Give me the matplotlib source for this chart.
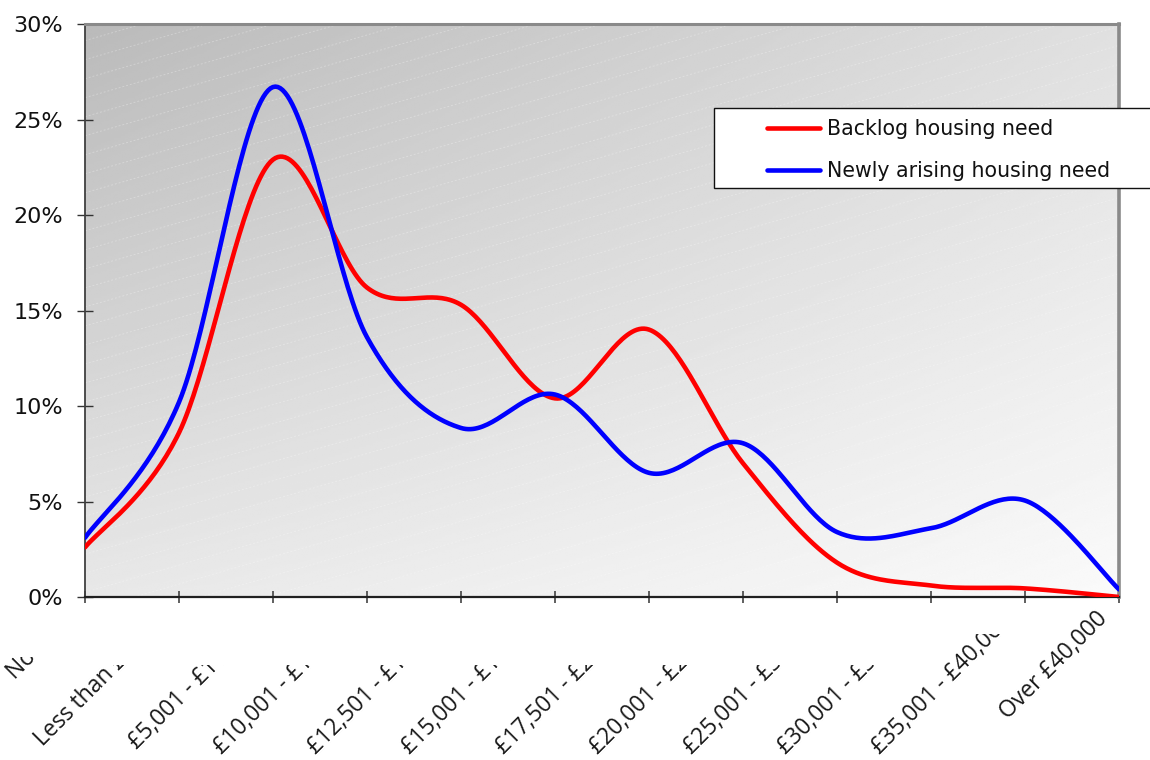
import numpy as np
import matplotlib
matplotlib.use("Agg")
import matplotlib.pyplot as plt
from matplotlib.lines import Line2D
from matplotlib.patches import Rectangle
from matplotlib.transforms import ScaledTranslation, Bbox, TransformedBbox

# Income bands (x axis)
income_bands = [
    "No income", "Less than £5,000", "£5,001 - £10,000", "£10,001 - £12,500",
    "£12,501 - £15,000", "£15,001 - £17,500", "£17,501 - £20,000",
    "£20,001 - £25,000", "£25,001 - £30,000", "£30,001 - £35,000",
    "£35,001 - £40,000", "Over £40,000",
]

# Share of households in each band (%)
backlog_need = [2.6, 8.6, 22.9, 16.2, 15.3, 10.4, 14.0, 7.0, 1.8, 0.6, 0.45, 0.0]
newly_arising_need = [3.1, 10.2, 26.7, 13.6, 8.85, 10.6, 6.5, 8.05, 3.4, 3.6, 5.05, 0.4]

series_names = ["Backlog housing need", "Newly arising housing need"]
series_colors = ["#ff0000", "#0000ff"]

y_ticks = [0, 5, 10, 15, 20, 25, 30]


def smooth_curve(values, steps=40):
    """Bezier smoothing through every point (cardinal spline, spreadsheet style)."""
    pts = np.column_stack([np.arange(len(values)), values]).astype(float)
    ext = np.vstack([pts[0], pts, pts[-1]])
    t = np.linspace(0, 1, steps)[:, None]
    parts = []
    for i in range(len(pts) - 1):
        p0, p1, p2, p3 = ext[i], ext[i + 1], ext[i + 2], ext[i + 3]
        c1 = p1 + (p2 - p0) / 6.0
        c2 = p2 - (p3 - p1) / 6.0
        seg = ((1 - t) ** 3) * p1 + 3 * ((1 - t) ** 2) * t * c1 \
            + 3 * (1 - t) * (t ** 2) * c2 + (t ** 3) * p2
        parts.append(seg if i == 0 else seg[1:])
    return np.vstack(parts)


W, H = 1150, 760
fig = plt.figure(figsize=(W / 100, H / 100), dpi=100)
fig.patch.set_facecolor("white")

ax_left, ax_right, ax_top, ax_bottom = 85, 1119, 24, 597
ax = fig.add_axes([ax_left / W, (H - ax_bottom) / H,
                   (ax_right - ax_left) / W, (ax_bottom - ax_top) / H])

# Diagonal grey gradient for the plot area
gx, gy = np.meshgrid(np.linspace(0, 1, 300), np.linspace(1, 0, 300))
tl, tr, bl, br = 186, 224, 232, 250
grad = (tl * (1 - gx) * gy + tr * gx * gy + bl * (1 - gx) * (1 - gy) + br * gx * (1 - gy)) / 255.0
ax.imshow(grad, extent=[0, 1, 0, 1], transform=ax.transAxes, cmap="gray",
          vmin=0, vmax=1, aspect="auto", interpolation="bilinear", zorder=0)

# Faint dotted texture running across the fill
slope, step = 0.523, 0.0332
for c in np.arange(-slope, 1.0 + step, step):
    ax.plot([0, 1], [c, c + slope], transform=ax.transAxes, color="white",
            lw=0.7, alpha=0.28, ls=(0, (2, 2)), zorder=1)

for vals, color, name in zip([backlog_need, newly_arising_need], series_colors, series_names):
    curve = smooth_curve(vals)
    ax.plot(curve[:, 0], curve[:, 1], color=color, lw=3.3, solid_capstyle="round",
            label=name, zorder=3)

ax.set_xlim(0, len(income_bands) - 1)
ax.set_ylim(0, 30)

ax.set_yticks(y_ticks)
ax.set_yticklabels([f"{v}%" for v in y_ticks])
ax.tick_params(axis="y", direction="inout", length=11.5, width=1, color="#333333",
               pad=10, labelsize=16, labelcolor="#111111")
ax.set_xticks(range(len(income_bands)))
ax.set_xticklabels([])
ax.tick_params(axis="x", direction="inout", length=9, width=1.2, color="#444444")

ax.spines["left"].set_color("#404040")
ax.spines["left"].set_linewidth(1.3)
ax.spines["bottom"].set_color("#202020")
ax.spines["bottom"].set_linewidth(1.6)
ax.spines["top"].set_color("#8a8a8a")
ax.spines["top"].set_linewidth(2.2)
ax.spines["right"].set_color("#8a8a8a")
ax.spines["right"].set_linewidth(2.6)

# Rotated category labels: each one starts below-left of its tick (pixel offsets
# of the text's baseline start) and is cut off a little under the axis.
label_starts = [(-70, 83), (-136, 150), (-136, 153)] + [(-145, 158)] * 8 + [(-111, 123)]
# pixel row (from the top) above which each label is hidden; None = not cut
label_cut_rows = [657] + [665] * 9 + [634, None]
for i, lab in enumerate(income_bands):
    dx, dy = label_starts[i]
    off = ScaledTranslation(dx / 100, -dy / 100, fig.dpi_scale_trans)
    txt = ax.text(i, 0, lab, transform=ax.transData + off, rotation=45,
                  rotation_mode="anchor", ha="left", va="baseline", fontsize=16.5,
                  family="Open Sans", color="#1a1a1a", clip_on=False)
    cut = label_cut_rows[i]
    if cut is not None:
        txt.set_clip_box(TransformedBbox(Bbox.from_extents(0, 0, 1, (H - cut) / H),
                                         fig.transFigure))
        txt.set_clip_on(True)

# Legend box running off the right edge
fig.add_artist(Rectangle((714 / W, (H - 188) / H), (W + 20 - 714) / W, 80 / H,
                         transform=fig.transFigure, facecolor="white",
                         edgecolor="#111111", lw=1.0, zorder=5))
handles = [Line2D([], [], color=c, lw=3.3, solid_capstyle="round") for c in series_colors]
leg = fig.legend(handles, series_names, loc="upper left",
                 bbox_to_anchor=(767 / W, (H - 119) / H), frameon=False,
                 borderpad=0, borderaxespad=0, handlelength=2.6, handletextpad=0.3,
                 labelspacing=1.08, fontsize=14.8)
leg.set_zorder(6)
for t in leg.get_texts():
    t.set_color("#111111")

fig.savefig("out.png", dpi=100)
